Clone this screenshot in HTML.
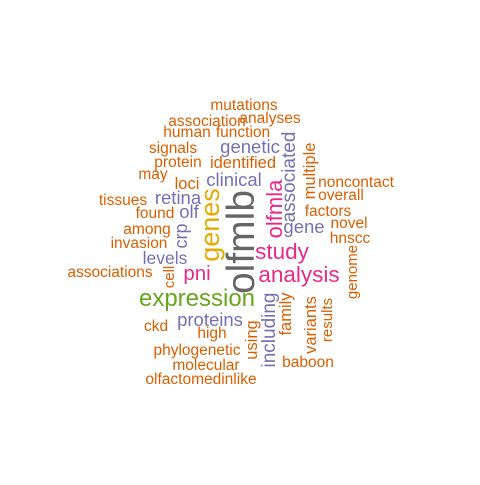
<!DOCTYPE html>
<html><head><meta charset="utf-8"><style>
html,body{margin:0;padding:0;background:#fff;}
svg text{font-family:"Liberation Sans",Arial,sans-serif;}
</style></head><body>
<svg id="wc" width="480" height="480" viewBox="0 0 480 480" xmlns="http://www.w3.org/2000/svg">
<rect width="480" height="480" fill="#fff"/>
</svg>
<script>
const words = ["mutations","association","analyses","human","function","signals","genetic","protein","identified","may","loci","clinical","tissues","retina","found","olf","among","invasion","levels","associations","pni","study","analysis","gene","noncontact","overall","factors","novel","hnscc","expression","ckd","proteins","high","phylogenetic","molecular","olfactomedinlike","baboon","olfmlb","genes","olfmla","associated","multiple","crp","cell","genome","family","variants","results","using","including"];
const colors = {o:"#D95F02",p:"#7570B3",k:"#E7298A",g:"#66A61E",y:"#E6AB02",d:"#666666"};
const wordColor = ["o","o","o","o","o","o","p","o","o","o","o","p","o","p","o","p","o","o","p","o","k","k","k","p","o","o","o","o","o","g","o","p","o","o","o","o","o","d","y","k","p","o","p","o","o","o","o","o","o","p"];
// layout: [x, y, size, rotated]
const layout = [
[244,110,15.5,0],[207,126,15.5,0],[270,123,15.5,0],[187,137,15.5,0],[243,137,15.5,0],[173,153,15.5,0],[250,153,18.5,0],[178,167,15.5,0],[243,168,16.5,0],[153,179,15.5,0],[187,189,16.5,0],[234,186,18.5,0],[123,205,15.5,0],[178,204,18.5,0],[155,218,15.5,0],[189,218,18.5,0],[147,234,15.5,0],[139,248,15.5,0],[165,264,17.5,0],[110,277,15.5,0],[197,280,20.5,0],[282,259,22.5,0],[299,282,22.5,0],[304,233,18.5,0],[356,187,15.5,0],[341,200,15.5,0],[328,216,15.5,0],[349,228,15.5,0],[350,243,15.5,0],[197,306,24,0],[156,331,15.5,0],[210,326,18.5,0],[212,338,15.5,0],[197,355,15.5,0],[206,370,15.5,0],[201,384,15.5,0],[308,367,15.5,0],
[254,242,39,1],[219,225,27,1],[282,209,22,1],[295,177,19,1],[315,171,16.5,1],[187,236,18,1],[174,277,15,1],[357,272,15,1],[291,314,16.5,1],[316,325,16.5,1],[332,320,15,1],[257,340,16.5,1],[275,330,19,1]];
const svg = document.getElementById('wc');
const NS = "http://www.w3.org/2000/svg";
words.forEach((w,i)=>{
  const [x,y,s,r] = layout[i];
  const t = document.createElementNS(NS,'text');
  
  
  t.setAttribute('font-size', s);
  t.setAttribute('fill', colors[wordColor[i]]);
  t.setAttribute('text-anchor','middle');
  if(r){
    t.setAttribute('x',0); t.setAttribute('y',0);
    t.setAttribute('transform','translate('+x+','+y+') rotate(-90)');
  } else {
    t.setAttribute('x',x); t.setAttribute('y',y);
  }
  t.textContent = w;
  svg.appendChild(t);
});
</script>
</body></html>
